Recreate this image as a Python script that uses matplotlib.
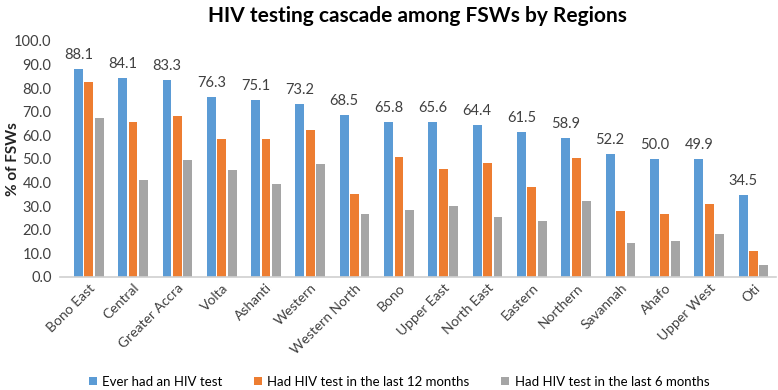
import numpy as np
import matplotlib.pyplot as plt

regions = ["Bono East", "Central", "Greater Accra", "Volta", "Ashanti", "Western",
           "Western North", "Bono", "Upper East", "North East", "Eastern", "Northern",
           "Savannah", "Ahafo", "Upper West", "Oti"]
ever = [88.1, 84.1, 83.3, 76.3, 75.1, 73.2, 68.5, 65.8, 65.6, 64.4, 61.5, 58.9, 52.2, 50.0, 49.9, 34.5]
last12 = [82.7, 65.5, 68.0, 58.5, 58.6, 62.4, 35.3, 51.0, 45.6, 48.4, 38.2, 50.5, 27.9, 26.5, 31.1, 10.8]
last6 = [67.2, 41.2, 49.5, 45.5, 39.4, 47.7, 26.5, 28.5, 30.2, 25.4, 23.7, 32.2, 14.2, 15.2, 18.2, 5.1]

plt.rcParams['font.family'] = ['Lato', 'DejaVu Sans']

fig, ax = plt.subplots(figsize=(7.78, 3.9), dpi=100)
fig.subplots_adjust(left=0.077, right=0.997, top=0.895, bottom=0.29)

x = np.arange(len(regions))
w = 0.2
ax.bar(x - 0.235, ever, w, color='#5B9BD5', label='Ever had an HIV test')
ax.bar(x, last12, w, color='#ED7D31', label='Had HIV test in the last 12 months')
ax.bar(x + 0.235, last6, w, color='#A5A5A5', label='Had HIV test in the last 6 months')

for xi, v in zip(x, ever):
    ax.text(xi - 0.235, v + 3, f"{v:.1f}", ha='center', va='bottom', fontsize=10.5, color='#404040')

ax.set_ylim(0, 100)
ax.set_xlim(-0.65, len(regions) - 0.5)
ax.set_yticks(np.arange(0, 101, 10))
ax.set_yticklabels([f"{t:.1f}" for t in np.arange(0, 101, 10)], fontsize=10.5, color='#404040')
ax.set_xticks(x)
ax.set_xticklabels(regions, rotation=45, ha='right', rotation_mode='anchor', fontsize=10, color='#404040')
ax.tick_params(axis='both', length=0)
ax.tick_params(axis='y', pad=6)
ax.set_ylabel('% of FSWs', fontsize=11, fontweight='bold', color='#222222')
ax.yaxis.set_label_coords(-0.056, 0.5)

for s in ['top', 'right', 'left']:
    ax.spines[s].set_visible(False)
ax.spines['bottom'].set_color('#D0D0D0')
ax.spines['bottom'].set_linewidth(1.2)

ax.set_title('HIV testing cascade among FSWs by Regions', fontsize=15, fontweight='bold', pad=14)

fig.legend(loc='lower center', ncol=3, frameon=False, fontsize=9.5, bbox_to_anchor=(0.513, -0.025),
           handlelength=0.6, handleheight=0.6, columnspacing=2.4, handletextpad=0.4)

fig.savefig('out.png', dpi=100)
